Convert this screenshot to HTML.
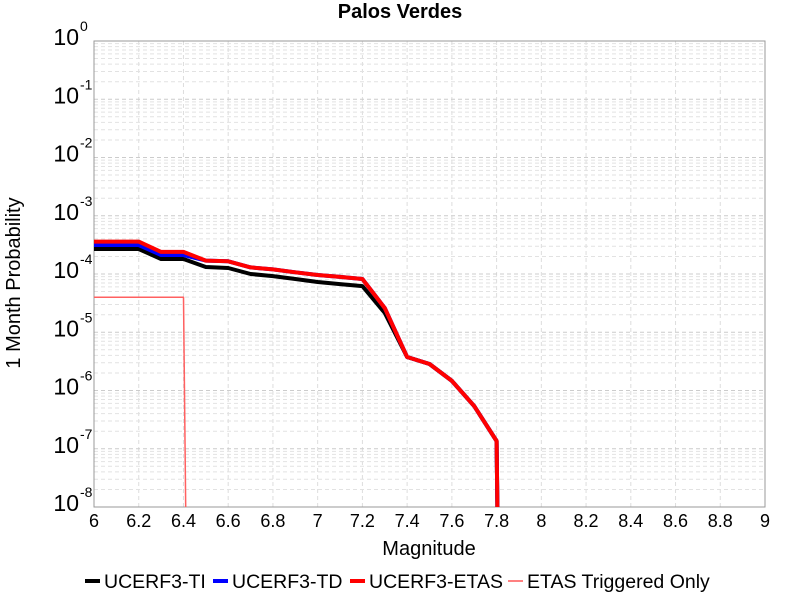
<!DOCTYPE html>
<html><head><meta charset="utf-8"><style>
html,body{margin:0;padding:0;background:#fff;overflow:hidden;width:800px;height:600px}
svg{display:block}
</style></head><body>
<svg id="chart" width="800" height="600" xmlns="http://www.w3.org/2000/svg" font-family="Liberation Sans, sans-serif">
<defs><clipPath id="pc"><rect x="94" y="41" width="671" height="466"/></clipPath></defs>
<rect width="800" height="600" fill="#fff"/>
<text x="400" y="18" text-anchor="middle" font-size="20" font-weight="bold">Palos Verdes</text>
<g id="grid"></g>
<rect x="94" y="41" width="671" height="466" fill="none" stroke="#999" stroke-width="1"/>
<g id="ticks"></g>
<g id="series" clip-path="url(#pc)"></g>
<text x="429" y="555" text-anchor="middle" font-size="20">Magnitude</text>
<text transform="translate(20,283) rotate(-90)" text-anchor="middle" font-size="20">1 Month Probability</text>
<g font-size="19.5">
<g><rect x="85" y="579" width="15" height="4" fill="#000"/><text x="104" y="588">UCERF3-TI</text></g>
<g><rect x="213" y="579" width="15" height="4" fill="#0000ff"/><text x="232" y="588">UCERF3-TD</text></g>
<g><rect x="350" y="579" width="15" height="4" fill="#ff0000"/><text x="369" y="588">UCERF3-ETAS</text></g>
<g><rect x="508" y="580" width="15" height="2" fill="#ff8080"/><text x="527" y="588">ETAS Triggered Only</text></g>
</g>
</svg>
<script>
const mags = [6.0,6.1,6.2,6.3,6.4,6.5,6.6,6.7,6.8,6.9,7.0,7.1,7.2,7.3,7.4,7.5,7.6,7.7,7.8,7.9];
const tiValues = [2.69e-4,2.69e-4,2.69e-4,1.81e-4,1.81e-4,1.32e-4,1.27e-4,1.0e-4,9.2e-5,8.2e-5,7.3e-5,6.7e-5,6.2e-5,2.14e-5,3.76e-6,2.85e-6,1.46e-6,5.4e-7,1.36e-7,1e-40];
const tdValues = [3.15e-4,3.15e-4,3.15e-4,2.12e-4,2.12e-4,1.7e-4,1.65e-4,1.3e-4,1.2e-4,1.07e-4,9.6e-5,8.9e-5,8.2e-5,2.6e-5,3.76e-6,2.85e-6,1.46e-6,5.4e-7,1.36e-7,1e-40];
const etasValues = [3.6e-4,3.6e-4,3.6e-4,2.4e-4,2.4e-4,1.7e-4,1.65e-4,1.3e-4,1.2e-4,1.07e-4,9.6e-5,8.9e-5,8.2e-5,2.6e-5,3.76e-6,2.85e-6,1.46e-6,5.4e-7,1.36e-7,1e-40];
const trigMags = [6.0,6.1,6.2,6.3,6.4,6.5];
const trigValues = [4.0e-5,4.0e-5,4.0e-5,4.0e-5,4.0e-5,1e-40];
const xTicks = [6,6.2,6.4,6.6,6.8,7,7.2,7.4,7.6,7.8,8,8.2,8.4,8.6,8.8,9];
const yExps = [0,-1,-2,-3,-4,-5,-6,-7,-8];

const NS="http://www.w3.org/2000/svg";
const X0=94,X1=765,Y0=41,Y1=507;
const xs=m=>X0+(m-6)/3*(X1-X0);
const ys=v=>Y0+(-Math.log10(v))/8*(Y1-Y0);
function mk(tag,attrs,parent){const e=document.createElementNS(NS,tag);for(const k in attrs)e.setAttribute(k,attrs[k]);parent.appendChild(e);return e;}
const grid=document.getElementById('grid'),ticks=document.getElementById('ticks'),series=document.getElementById('series');
xTicks.forEach(t=>{
 const x=xs(t);
 if(t>6&&t<9){const l=mk('line',{x1:x,x2:x,y1:Y0,y2:Y1,stroke:'#ddd','stroke-dasharray':'4,3'},grid);
 
 }
 const tx=mk('text',{x:x,y:527,'text-anchor':'middle','font-size':'18'},ticks);
 tx.textContent=String(t);
 
 
});
for(let e=-8;e<0;e++){for(let k=1;k<10;k++){const v=k*Math.pow(10,e);const y=ys(v);
 if(y<=Y0+0.5||y>=Y1-0.5)continue;
 const l=mk('line',{x1:X0,x2:X1,y1:y,y2:y,stroke:k==1?'#ccc':'#e2e2e2','stroke-dasharray':'4,3'},grid);
 
 }}
yExps.forEach(e=>{const y=ys(Math.pow(10,e));
 const t=mk('text',{x:79,y:y+4,'text-anchor':'end','font-size':'23'},ticks);
 t.textContent='10';
 
 
 const s=mk('text',{x:80,y:y-10,'font-size':'14'},ticks);
 s.textContent=String(e);
 
 
});
function line(xsArr,vals,color,w,name){
 const pts=xsArr.map((m,i)=>[xs(m),ys(vals[i])]);
 let d='';
 for(let i=0;i<pts.length;i++){
  let [x,y]=pts[i];
  if(y>Y1+20&&i>0){const [px,py]=pts[i-1];const t=(Y1+20-py)/(y-py);x=px+(x-px)*t;y=Y1+20;d+='L'+x.toFixed(1)+','+y.toFixed(1);break;}
  d+=(i?'L':'M')+x.toFixed(1)+','+y.toFixed(1);
 }
 const p=mk('path',{d:d,fill:'none',stroke:color,'stroke-width':w,'stroke-linejoin':'round'},series);
 
 
}
line(mags,tiValues,'#000',4,'ti-line');
line(mags,tdValues,'#0000ff',4,'td-line');
line(mags,etasValues,'#ff0000',4,'etas-line');
line(trigMags,trigValues,'#ff6060',1.5,'triggered-line');
</script>
</body></html>
